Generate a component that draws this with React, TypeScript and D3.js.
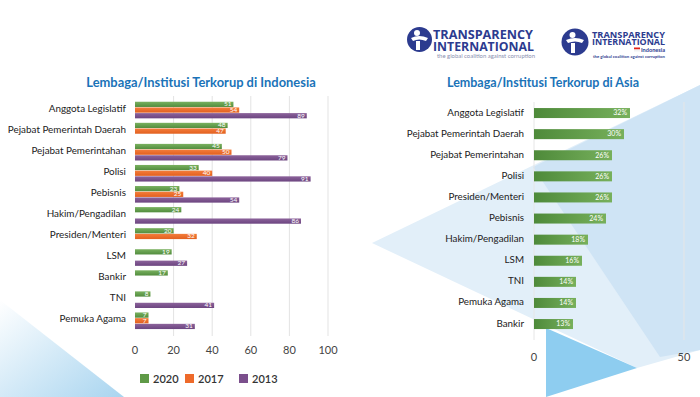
import React from "react";
import * as d3 from "d3";

const idCategories = [
  "Anggota Legislatif",
  "Pejabat Pemerintah Daerah",
  "Pejabat Pemerintahan",
  "Polisi",
  "Pebisnis",
  "Hakim/Pengadilan",
  "Presiden/Menteri",
  "LSM",
  "Bankir",
  "TNI",
  "Pemuka Agama",
];
const id2020: (number | null)[] = [51, 48, 45, 33, 23, 24, 20, 19, 17, 8, 7];
const id2017: (number | null)[] = [54, 47, 50, 40, 25, null, 32, null, null, null, 7];
const id2013: (number | null)[] = [89, null, 79, 91, 54, 86, null, 27, null, 41, 31];
const seriesYears = ["2020", "2017", "2013"];
const idTicks = [0, 20, 40, 60, 80, 100];

const asiaCategories = [
  "Anggota Legislatif",
  "Pejabat Pemerintah Daerah",
  "Pejabat Pemerintahan",
  "Polisi",
  "Presiden/Menteri",
  "Pebisnis",
  "Hakim/Pengadilan",
  "LSM",
  "TNI",
  "Pemuka Agama",
  "Bankir",
];
const asiaValues = [32, 30, 26, 26, 26, 24, 18, 16, 14, 14, 13];
const asiaTicks = [0, 50];

const titleLeft = "Lembaga/Institusi Terkorup di Indonesia";
const titleRight = "Lembaga/Institusi Terkorup di Asia";

const FONT = "Lato, 'Open Sans', sans-serif";
const fills = ["url(#gGreen)", "url(#gOrange)", "url(#gPurple)"];
const legendColors = ["#5f9a47", "#ee6a2a", "#7b4f8c"];

export default function App() {
  const W = 700,
    H = 397;

  const xL = d3.scaleLinear().domain([0, 100]).range([135, 328]);
  const yL = d3
    .scaleBand<string>()
    .domain(idCategories)
    .range([99.5, 331.3])
    .paddingInner(0.212)
    .paddingOuter(0.106);
  const ySub = d3
    .scaleBand<string>()
    .domain(seriesYears)
    .range([0, yL.bandwidth()])
    .paddingInner(0.08);
  const seriesData = [id2020, id2017, id2013];

  const xR = d3.scaleLinear().domain([0, 50]).range([534, 684]);
  const yR = d3
    .scaleBand<string>()
    .domain(asiaCategories)
    .range([102.5, 334.6])
    .paddingInner(0.526)
    .paddingOuter(0.263);

  return (
    <svg
      width={W}
      height={H}
      style={{ position: "absolute", left: 0, top: 0, background: "#fff" }}
      fontFamily={FONT}
    >
      <defs>
        <linearGradient id="gGreen" x1="0" y1="0" x2="0" y2="1">
          <stop offset="0" stopColor="#79b15f" />
          <stop offset="1" stopColor="#528c3e" />
        </linearGradient>
        <linearGradient id="gOrange" x1="0" y1="0" x2="0" y2="1">
          <stop offset="0" stopColor="#f47d3b" />
          <stop offset="1" stopColor="#e2601f" />
        </linearGradient>
        <linearGradient id="gPurple" x1="0" y1="0" x2="0" y2="1">
          <stop offset="0" stopColor="#8c639b" />
          <stop offset="1" stopColor="#6c4580" />
        </linearGradient>
        <linearGradient id="gGreenH" x1="0" y1="0" x2="1" y2="0">
          <stop offset="0" stopColor="#4e8a3a" />
          <stop offset="1" stopColor="#77b05c" />
        </linearGradient>
        <linearGradient id="gLeftTri" x1="0" y1="0" x2="1" y2="1">
          <stop offset="0" stopColor="#ffffff" />
          <stop offset="1" stopColor="#9fd0ee" />
        </linearGradient>
      </defs>

      {/* background shapes */}
      <polygon points="0,300 124,397 0,397" fill="url(#gLeftTri)" opacity={0.9} />
      <polygon points="372,243 700,85 700,350 637,368" fill="#e2eff9" />
      <polygon points="533,167 700,85 700,350 660,357" fill="#cfe4f5" />
      <polygon points="546,328 637,368 546,397" fill="#8ecdf0" />

      {/* logos */}
      <g>
        <circle cx={419.5} cy={39.5} r={12.5} fill="#2c3b8f" />
        <circle cx={417} cy={33} r={3} fill="#fff" />
        <path d="M411,38 Q419,34 428,38 L426,41 Q419,38 413,41 Z" fill="#fff" />
        <path d="M416,41 L416,50 L420,50 L420,41 Z" fill="#fff" />
        <text x={433} y={39} fontSize={12} fontWeight={700} fill="#2c3b8f" textLength={100} lengthAdjust="spacingAndGlyphs" fontFamily="'Open Sans', sans-serif">TRANSPARENCY</text>
        <text x={433} y={50.5} fontSize={12} fontWeight={700} fill="#2c3b8f" textLength={101} lengthAdjust="spacingAndGlyphs" fontFamily="'Open Sans', sans-serif">INTERNATIONAL</text>
        <text x={437} y={57.5} fontSize={5} fill="#8a90b0" textLength={98} lengthAdjust="spacingAndGlyphs">the global coalition against corruption</text>

        <circle cx={575} cy={42} r={13.5} fill="#2c3b8f" />
        <circle cx={572.5} cy={35} r={3} fill="#fff" />
        <path d="M566,40 Q575,36 584,40 L582,43 Q575,40 568,43 Z" fill="#fff" />
        <path d="M571,43 L571,53 L575,53 L575,43 Z" fill="#fff" />
        <text x={592} y={37.5} fontSize={9.5} fontWeight={700} fill="#2c3b8f" textLength={73} lengthAdjust="spacingAndGlyphs" fontFamily="'Open Sans', sans-serif">TRANSPARENCY</text>
        <text x={592} y={45} fontSize={9.5} fontWeight={700} fill="#2c3b8f" textLength={73} lengthAdjust="spacingAndGlyphs" fontFamily="'Open Sans', sans-serif">INTERNATIONAL</text>
        <rect x={634} y={47.5} width={6} height={2} fill="#e2231a" />
        <rect x={634} y={49.5} width={6} height={2} fill="#f2f2f2" />
        <text x={641} y={52} fontSize={5} fontWeight={700} fill="#2c3b8f" textLength={24} lengthAdjust="spacingAndGlyphs">Indonesia</text>
        <text x={593} y={58} fontSize={4} fontWeight={700} fill="#2c3b8f" textLength={72} lengthAdjust="spacingAndGlyphs">the global coalition against corruption</text>
      </g>

      {/* Titles */}
      <text x={201} y={87} textAnchor="middle" fontSize={12.9} fontWeight={700} fill="#1a73b8">
        {titleLeft}
      </text>
      <text x={543} y={87} textAnchor="middle" fontSize={12.5} fontWeight={700} fill="#1a73b8">
        {titleRight}
      </text>

      {/* Left chart gridlines */}
      {idTicks.filter((t) => t > 0).map((t) => (
        <line key={"gl" + t} x1={xL(t)} x2={xL(t)} y1={96} y2={336} stroke="#e3e3e3" strokeWidth={1} />
      ))}

      {/* Left bars */}
      {idCategories.map((c, i) => (
        <g key={"lc" + c}>
          <text
            x={126}
            y={(yL(c) as number) + yL.bandwidth() / 2 - 1}
            textAnchor="end"
            dominantBaseline="middle"
            fontSize={9.9}
            fill="#222"
          >
            {c}
          </text>
          {seriesData.map((s, k) => {
            const v = s[i];
            if (v == null) return null;
            const y0 = (yL(c) as number) + (ySub(seriesYears[k]) as number);
            const h = ySub.bandwidth();
            return (
              <g key={k}>
                <rect x={xL(0)} y={y0} width={xL(v) - xL(0)} height={h} fill={fills[k]} />
                <text
                  x={xL(v) - 2}
                  y={y0 + h / 2 + 0.3}
                  textAnchor="end"
                  dominantBaseline="middle"
                  fontSize={6.5}
                  fill="#fff"
                >
                  {v}
                </text>
              </g>
            );
          })}
        </g>
      ))}

      {/* Left axis ticks */}
      {idTicks.map((t) => (
        <text key={"lt" + t} x={xL(t)} y={354} textAnchor="middle" fontSize={11} fill="#444">
          {t}
        </text>
      ))}

      {/* Legend */}
      {seriesYears.map((yr, k) => {
        const xs = [140, 185, 239];
        return (
          <g key={"lg" + yr}>
            <rect x={xs[k]} y={374} width={9} height={9} fill={legendColors[k]} />
            <text x={xs[k] + 13} y={383} fontSize={11} fill="#333" fontWeight={600}>
              {yr}
            </text>
          </g>
        );
      })}

      {/* Right chart gridlines */}
      {asiaTicks.map((t) => (
        <line key={"gr" + t} x1={xR(t)} x2={xR(t)} y1={102} y2={340} stroke="#e6e6e6" strokeWidth={1} />
      ))}

      {/* Right bars */}
      {asiaCategories.map((c, i) => {
        const y0 = yR(c) as number;
        const h = yR.bandwidth();
        const v = asiaValues[i];
        return (
          <g key={"rc" + c}>
            <text x={524} y={y0 + h / 2} textAnchor="end" dominantBaseline="middle" fontSize={9.8} fill="#222">
              {c}
            </text>
            <rect x={xR(0)} y={y0} width={xR(v) - xR(0)} height={h} fill="url(#gGreenH)" />
            <text x={xR(v) - 3} y={y0 + h / 2 + 0.5} textAnchor="end" dominantBaseline="middle" fontSize={7} fill="#fff">
              {v + "%"}
            </text>
          </g>
        );
      })}

      {/* Right axis ticks */}
      {asiaTicks.map((t) => (
        <text key={"rt" + t} x={xR(t)} y={361} textAnchor="middle" fontSize={11} fill="#444">
          {t}
        </text>
      ))}
    </svg>
  );
}
